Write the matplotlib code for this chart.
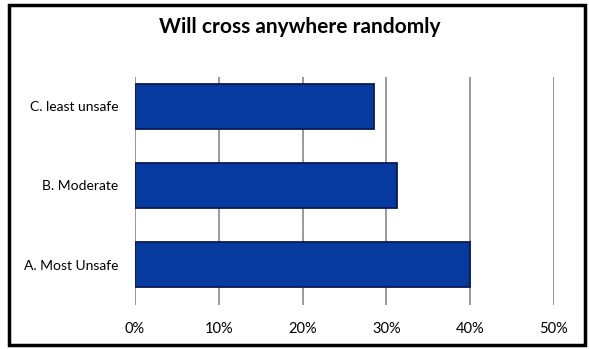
import matplotlib.pyplot as plt
from matplotlib.patches import Rectangle
from matplotlib.ticker import PercentFormatter

# data
categories = ['A. Most Unsafe', 'B. Moderate', 'C. least unsafe']
values = [40.0, 31.3, 28.5]
x_ticks = [0, 10, 20, 30, 40, 50]
title = 'Will cross anywhere randomly'

plt.rcParams['font.family'] = ['Lato', 'DejaVu Sans']

W, H = 589, 349
fig = plt.figure(figsize=(W / 100, H / 100), dpi=100)
ax = fig.add_axes([135 / W, 1 - 305 / H, (554 - 135) / W, (305 - 77) / H])

ax.barh(categories, values, height=0.57, color='#073a9e', edgecolor='#0a1a55',
        linewidth=1.3, zorder=3)

ax.set_xlim(0, 50)
ax.set_ylim(-0.51, 2.37)
ax.set_xticks(x_ticks)
ax.xaxis.set_major_formatter(PercentFormatter(decimals=0))
ax.grid(axis='x', color='#7f7f7f', linewidth=1.1, zorder=0)
ax.tick_params(axis='x', length=0, labelsize=10.5, colors='#000000', pad=12)
ax.tick_params(axis='y', length=0, labelsize=10, colors='#000000', pad=12)
for s in ax.spines.values():
    s.set_visible(False)

fig.text(300 / W, 1 - 27 / H, title, ha='center', va='center',
         fontsize=15, fontweight='bold', color='#000000')

# frame round the whole chart
fig.patches.append(Rectangle((9 / W, 4 / H), (585 - 9) / W, (344 - 4) / H,
                             transform=fig.transFigure, fill=False,
                             edgecolor='black', linewidth=2.5))

fig.savefig('out.png', dpi=100)
